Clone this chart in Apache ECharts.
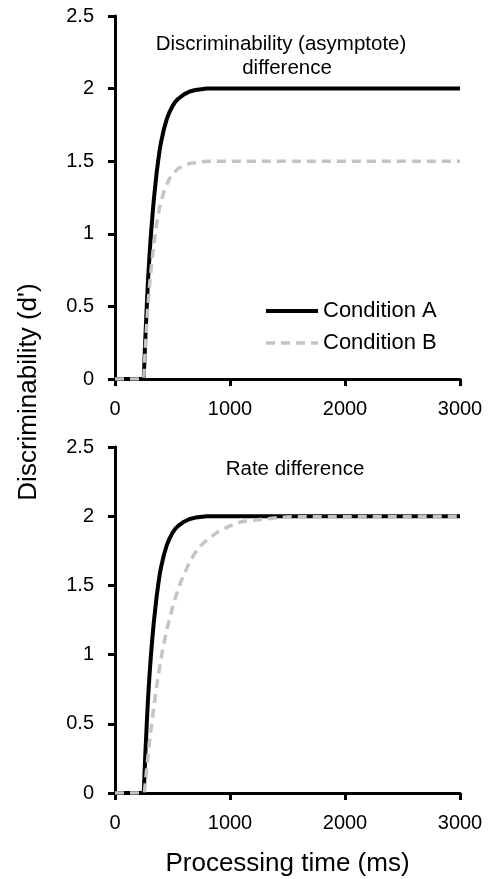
<!DOCTYPE html>
<html>
<head>
<meta charset="utf-8">
<script src="https://cdn.jsdelivr.net/npm/echarts@6/dist/echarts.min.js"></script>
<style>
html,body{margin:0;padding:0;background:#fff;}
#c{width:492px;height:879px;}
</style>
</head>
<body>
<div id="c"></div>
<script>
// Data
const timesFast = [0, 250, 262, 275, 287, 300, 312, 325, 337, 350, 362, 375, 387, 400, 425, 450, 475, 500, 525, 550, 600, 650, 700, 800, 3000];
const topA =      [0, 0, 0.25, 0.48, 0.68, 0.85, 0.99, 1.12, 1.23, 1.33, 1.42, 1.50, 1.57, 1.63, 1.72, 1.79, 1.84, 1.88, 1.91, 1.93, 1.96, 1.98, 1.99, 2.0, 2.0];
const topB =      [0, 0, 0.19, 0.36, 0.51, 0.64, 0.74, 0.84, 0.92, 1.00, 1.07, 1.12, 1.18, 1.22, 1.29, 1.34, 1.38, 1.41, 1.43, 1.45, 1.47, 1.485, 1.49, 1.5, 1.5];
const bottomA =   [0, 0, 0.25, 0.48, 0.68, 0.85, 0.99, 1.12, 1.23, 1.33, 1.42, 1.50, 1.57, 1.63, 1.72, 1.79, 1.84, 1.88, 1.91, 1.93, 1.96, 1.98, 1.99, 2.0, 2.0];
const timesSlow = [0, 255, 275, 300, 325, 350, 375, 400, 425, 450, 475, 500, 550, 600, 650, 700, 750, 800, 900, 1000, 1100, 1200, 1300, 1500, 3000];
const bottomB =   [0, 0, 0.17, 0.37, 0.54, 0.70, 0.84, 0.97, 1.08, 1.18, 1.26, 1.34, 1.48, 1.58, 1.67, 1.74, 1.79, 1.83, 1.89, 1.93, 1.96, 1.97, 1.98, 1.995, 2.0];
const seriesNames = ['Condition A', 'Condition B'];
const titleTop = ['Discriminability (asymptote)', 'difference'];
const titleBottom = 'Rate difference';
const xTicks = [0, 1000, 2000, 3000];
const yTicks = [0, 0.5, 1, 1.5, 2, 2.5];

const pair = (xs, ys) => xs.map((x, i) => [x, ys[i]]);
const FONT = '"Liberation Sans", Arial, sans-serif';

const chart = echarts.init(document.getElementById('c'), null, {renderer: 'canvas'});

function xAxisCfg(gridIndex, withName) {
  return {
    type: 'value', gridIndex, min: xTicks[0], max: xTicks[xTicks.length - 1], interval: 1000,
    axisLine: {show: true, onZero: false, lineStyle: {color: '#000', width: 3}},
    axisTick: {show: true, inside: false, length: 7, lineStyle: {color: '#000', width: 3}},
    axisLabel: {color: '#000', fontSize: 20, fontFamily: FONT, margin: 20, formatter: v => String(v)},
    splitLine: {show: false},
    name: withName ? 'Processing time (ms)' : '',
    nameLocation: 'middle', nameGap: 58,
    nameTextStyle: {color: '#000', fontSize: 26, fontFamily: FONT}
  };
}
function yAxisCfg(gridIndex) {
  return {
    type: 'value', gridIndex, min: yTicks[0], max: yTicks[yTicks.length - 1], interval: 0.5,
    axisLine: {show: true, onZero: false, lineStyle: {color: '#000', width: 3}},
    axisTick: {show: true, inside: false, length: 7, lineStyle: {color: '#000', width: 3}},
    axisLabel: {color: '#000', fontSize: 20, fontFamily: FONT, margin: 21},
    splitLine: {show: false}
  };
}
const lineA = {color: '#000', width: 4};
const lineB = {color: '#c4c4c4', width: 3.5, type: [9, 6]};
function mk(name, data, idx, style) {
  return {
    name, type: 'line', xAxisIndex: idx, yAxisIndex: idx, data,
    showSymbol: false, symbol: 'none', smooth: false,
    lineStyle: style, itemStyle: {color: style.color}, z: name === seriesNames[0] ? 3 : 4,
    animation: false
  };
}
const txt = (text, x, y, size) => ({
  type: 'text', x, y,
  style: {text, fill: '#000', fontSize: size, fontFamily: FONT, align: 'center', verticalAlign: 'middle'}
});

chart.setOption({
  animation: false,
  backgroundColor: '#fff',
  grid: [
    {left: 115, right: 32, top: 16, height: 363},
    {left: 115, right: 32, top: 447, height: 346}
  ],
  legend: {
    data: [
      {name: seriesNames[0], lineStyle: {width: 4, color: '#000'}},
      {name: seriesNames[1], lineStyle: {width: 3.5, color: '#c4c4c4', type: [9, 6]}}
    ],
    orient: 'vertical', left: 264, top: 300, itemGap: 10, padding: 0,
    itemWidth: 52, itemHeight: 14,
    itemStyle: {opacity: 0},
    textStyle: {color: '#000', fontSize: 22, fontFamily: FONT}
  },
  xAxis: [xAxisCfg(0, false), xAxisCfg(1, true)],
  yAxis: [yAxisCfg(0), yAxisCfg(1)],
  graphic: [
    txt(titleTop[0], 281, 44, 20.5),
    txt(titleTop[1], 287, 68, 20.5),
    txt(titleBottom, 295, 469, 20.5),
    Object.assign(txt("Discriminability (d')", 29, 392, 26), {rotation: Math.PI / 2})
  ],
  series: [
    mk(seriesNames[0], pair(timesFast, topA), 0, lineA),
    mk(seriesNames[1], pair(timesFast, topB), 0, lineB),
    mk(seriesNames[0], pair(timesFast, bottomA), 1, lineA),
    mk(seriesNames[1], pair(timesSlow, bottomB), 1, lineB)
  ]
});
</script>
</body>
</html>
